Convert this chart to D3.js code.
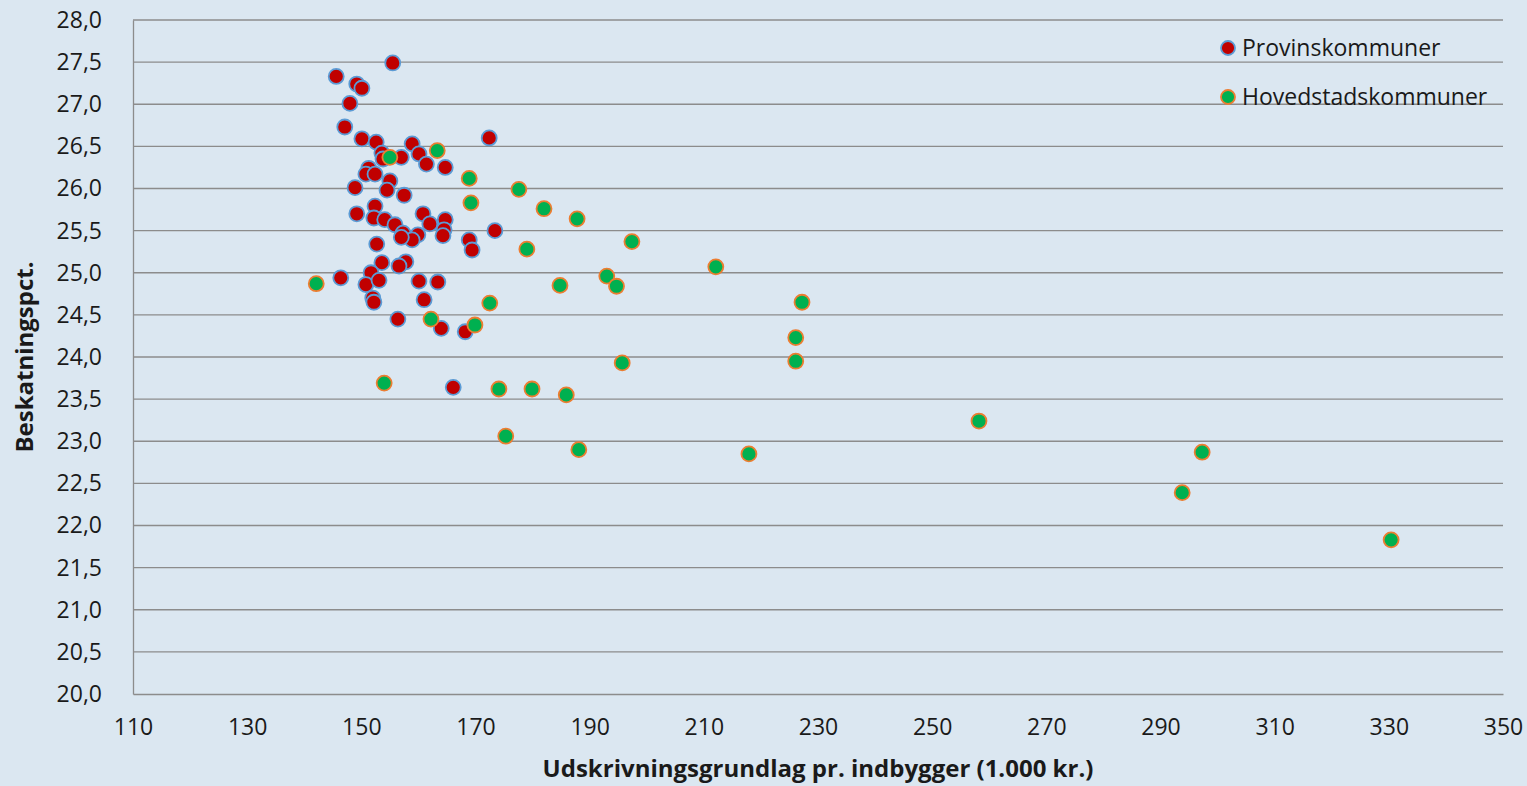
<!DOCTYPE html>
<html>
<head>
<meta charset="utf-8">
<script src="https://cdn.jsdelivr.net/npm/d3@7"></script>
<style>
  body { margin: 0; background: #dbe7f1; }
  svg { display: block; }
  .tick text { font-family: "Open Sans", Lato, sans-serif; font-size: 23px; fill: #1a1a1a; }
</style>
</head>
<body>
<svg width="1527" height="786"></svg>
<script>
// Provinskommuner: [udskrivningsgrundlag, beskatningspct]
const provinsX = [145.6, 155.5, 149.2, 150.1, 148.0, 147.1, 150.1, 152.6, 158.9, 172.4,
    153.6, 153.8, 157.0, 160.1, 161.4, 164.7, 151.3, 150.8, 152.4, 155.0,
    148.9, 154.5, 157.5, 152.4, 149.2, 152.2, 154.1, 155.9, 160.8, 162.0,
    164.7, 164.5, 164.3, 157.3, 159.9, 158.9, 157.0, 173.4, 168.9, 169.4,
    152.7, 157.8, 153.6, 151.7, 156.6, 146.4, 150.8, 153.1, 160.1, 163.4,
    152.0, 152.2, 161.0, 156.4, 164.0, 168.2, 166.1];
const provinsY = [27.33, 27.49, 27.24, 27.19, 27.01, 26.73, 26.59, 26.55, 26.53, 26.60,
    26.42, 26.35, 26.37, 26.41, 26.29, 26.25, 26.24, 26.17, 26.17, 26.09,
    26.01, 25.98, 25.92, 25.79, 25.70, 25.65, 25.63, 25.57, 25.70, 25.58,
    25.63, 25.51, 25.44, 25.47, 25.45, 25.39, 25.42, 25.50, 25.39, 25.27,
    25.34, 25.13, 25.12, 25.00, 25.08, 24.94, 24.86, 24.91, 24.90, 24.89,
    24.70, 24.65, 24.68, 24.45, 24.34, 24.30, 23.64];

// Hovedstadskommuner
const hovedX = [142.1, 155.0, 163.3, 168.9, 169.2, 177.6, 182.0, 187.8, 179.0, 197.4,
    212.1, 193.0, 194.7, 184.8, 172.5, 162.2, 169.9, 227.2, 226.1, 226.1,
    195.7, 154.0, 174.1, 179.9, 185.9, 175.3, 188.1, 217.9, 258.2, 297.3,
    293.8, 330.4];
const hovedY = [24.87, 26.37, 26.45, 26.12, 25.83, 25.99, 25.76, 25.64, 25.28, 25.37,
    25.07, 24.96, 24.84, 24.85, 24.64, 24.45, 24.38, 24.65, 24.23, 23.95,
    23.93, 23.69, 23.62, 23.62, 23.55, 23.06, 22.90, 22.85, 23.24, 22.87,
    22.39, 21.83];

const xTicks = d3.range(110, 351, 20);
const yTicks = d3.range(20, 28.01, 0.5);
const seriesNames = ['Provinskommuner', 'Hovedstadskommuner'];

const series = [
    { name: seriesNames[0], fill: '#c00000', stroke: '#5b9bd5', pts: provinsX.map((x, i) => [x, provinsY[i]]) },
    { name: seriesNames[1], fill: '#00b050', stroke: '#ed7d31', pts: hovedX.map((x, i) => [x, hovedY[i]]) }
];

const svg = d3.select('svg');
const plotLeft = 133, plotRight = 1503, plotTop = 20, plotBottom = 694;
const font = '"Open Sans", Lato, sans-serif';

const x = d3.scaleLinear().domain([110, 350]).range([plotLeft, plotRight]);
const y = d3.scaleLinear().domain([20, 28]).range([plotBottom, plotTop]);

// horizontal gridlines
svg.append('g')
    .selectAll('line')
    .data(yTicks.slice(1))
    .enter()
    .append('line')
    .attr('x1', plotLeft).attr('x2', plotRight)
    .attr('y1', d => y(d)).attr('y2', d => y(d))
    .attr('stroke', '#8c8c8c')
    .attr('stroke-width', 1.3);

const fmt = d => d3.format('.1f')(d).replace('.', ',');

const yAxis = svg.append('g')
    .attr('transform', `translate(${plotLeft},0)`)
    .call(d3.axisLeft(y).tickValues(yTicks).tickFormat(fmt).tickSize(0).tickPadding(31));
yAxis.select('.domain').attr('stroke', '#8c8c8c').attr('stroke-width', 1.3);

const xAxis = svg.append('g')
    .attr('transform', `translate(0,${plotBottom})`)
    .call(d3.axisBottom(x).tickValues(xTicks).tickFormat(d3.format('d')).tickSize(0).tickPadding(25));
xAxis.select('.domain').attr('stroke', '#8c8c8c').attr('stroke-width', 1.3);

// axis titles
svg.append('text')
    .attr('x', 818).attr('y', 777)
    .attr('text-anchor', 'middle')
    .style('font-family', font)
    .style('font-weight', 'bold').style('font-size', '24px').attr('fill', '#1a1a1a')
    .text('Udskrivningsgrundlag pr. indbygger (1.000 kr.)');

svg.append('text')
    .attr('transform', `translate(33,357) rotate(-90)`)
    .attr('text-anchor', 'middle')
    .style('font-family', font)
    .style('font-weight', 'bold').style('font-size', '24px').attr('fill', '#1a1a1a')
    .text('Beskatningspct.');

// points
series.forEach(s => {
    svg.append('g')
        .selectAll('circle')
        .data(s.pts)
        .enter()
        .append('circle')
        .attr('cx', d => x(d[0]))
        .attr('cy', d => y(d[1]))
        .attr('r', 7.5)
        .attr('fill', s.fill)
        .attr('stroke', s.stroke)
        .attr('stroke-width', 1.8);
});

// legend
const legend = svg.append('g')
    .selectAll('g')
    .data(series)
    .enter()
    .append('g')
    .attr('transform', (d, i) => `translate(1228,${48 + i * 49})`);
legend.append('circle')
    .attr('r', 7).attr('fill', d => d.fill)
    .attr('stroke', d => d.stroke).attr('stroke-width', 1.8);
legend.append('text')
    .attr('x', 14).attr('dy', '0.35em')
    .style('font-family', font)
    .style('font-size', '23px').attr('fill', '#1a1a1a')
    .text(d => d.name);
</script>
</body>
</html>
